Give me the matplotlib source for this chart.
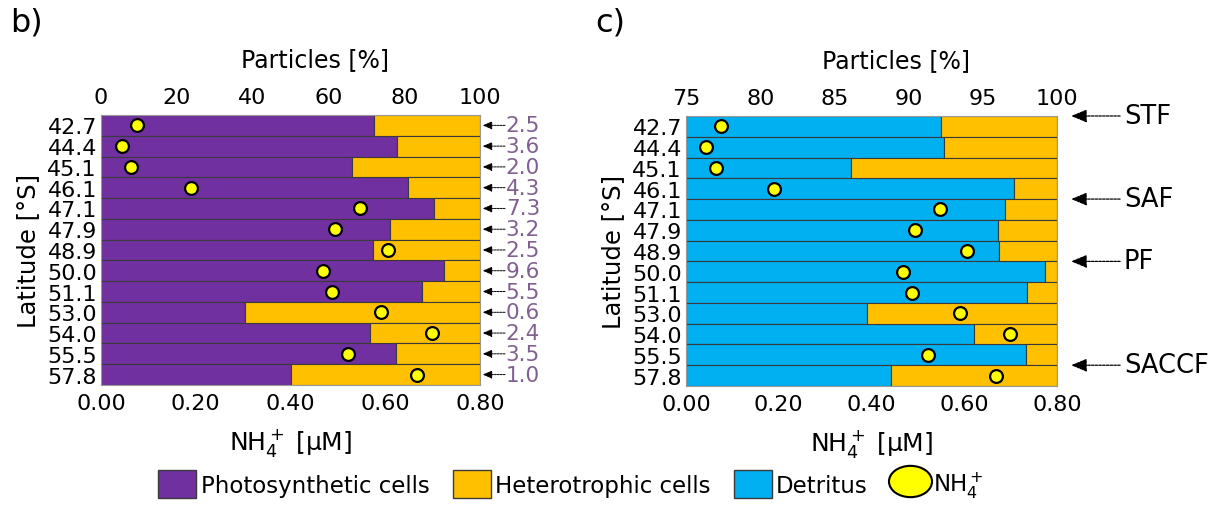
#Recreates the particle composition / NH4+ latitude bar charts (panels b and c)

import matplotlib
matplotlib.use('Agg')
import matplotlib.pyplot as plt
from matplotlib.patches import Patch
from matplotlib.lines import Line2D
from matplotlib.path import Path
from matplotlib.transforms import Affine2D

plt.rcParams['font.family'] = ['DejaVu Sans']
plt.rcParams['font.size'] = 16

Latitudes = ['42.7','44.4','45.1','46.1','47.1','47.9','48.9','50.0','51.1','53.0','54.0','55.5','57.8']

# percent of particles
Photosynthetic = [72.0,78.1,66.1,81.1,87.9,76.2,71.8,90.6,84.8,38.1,70.9,77.9,50.0]
Detritus = [92.2,92.4,86.1,97.1,96.5,96.0,96.1,99.2,98.0,87.2,94.4,97.9,88.8]

# NH4+ concentration [uM]
NH4 = [0.076,0.044,0.064,0.190,0.547,0.493,0.605,0.468,0.488,0.590,0.698,0.521,0.668]

# side labels of panel b
SideValues = ['2.5','3.6','2.0','4.3','7.3','3.2','2.5','9.6','5.5','0.6','2.4','3.5','1.0']

# fronts in panel c (row boundary positions)
FrontNames = ['STF','SAF','PF','SACCF']
FrontPos = [-0.5,3.5,6.5,11.5]

PURPLE = '#7030A0'
ORANGE = '#FFC000'
BLUE = '#00B0F0'
YELLOW = '#FFFF00'
EDGE = '#3a3a3a'

yPos = list(range(len(Latitudes)))


def SetupPanel(ax,xmin,xmax,xticks):

	axn = ax.twiny()

	ax.set_xlim(xmin,xmax)
	ax.set_ylim(len(Latitudes)-0.5,-0.5)
	ax.xaxis.tick_top()
	ax.xaxis.set_label_position('top')
	ax.set_xticks(xticks)
	ax.set_yticks(yPos)
	ax.set_yticklabels(Latitudes)
	ax.tick_params(length=0,labelsize=16)
	ax.tick_params(axis='x',pad=6)
	ax.tick_params(axis='y',pad=3)
	ax.set_xlabel('Particles [%]',fontsize=17,va='center')
	ax.xaxis.set_label_coords(0.565,1.207)
	ax.set_ylabel('Latitude [°S]',fontsize=17.5,labelpad=5)
	for sp in ax.spines.values():
		sp.set_color('#999999')
		sp.set_linewidth(0.8)

	axn.xaxis.tick_bottom()
	axn.xaxis.set_label_position('bottom')
	axn.set_xlim(0,0.8)
	axn.set_xticks([0,0.2,0.4,0.6,0.8])
	axn.set_xticklabels(['%.2f' % v for v in [0,0.2,0.4,0.6,0.8]])
	axn.tick_params(length=0,pad=6,labelsize=16)
	axn.set_xlabel('NH$_4^+$ [µM]',fontsize=18,labelpad=9)
	axn.scatter(NH4,yPos,s=85,color=YELLOW,edgecolor='black',linewidth=1.6,zorder=5)
	axn.set_ylim(ax.get_ylim())
	for sp in axn.spines.values():
		sp.set_visible(False)
	return axn


fig = plt.figure(figsize=(12.23,5.06),dpi=100)

# panel b
ax1 = fig.add_axes([0.0826,0.2372,0.3099,0.5336])
ax1.barh(yPos,Photosynthetic,height=1.0,color=PURPLE,edgecolor=EDGE,linewidth=0.8)
ax1.barh(yPos,[100-p for p in Photosynthetic],left=Photosynthetic,height=1.0,color=ORANGE,edgecolor=EDGE,linewidth=0.8)
SetupPanel(ax1,0,100,[0,20,40,60,80,100])

for yy,lab in zip(yPos,SideValues):
	ax1.annotate('',xy=(1.007,yy),xycoords=('axes fraction','data'),
		xytext=(1.066,yy),textcoords=('axes fraction','data'),
		arrowprops=dict(arrowstyle='-|>,head_length=0.35,head_width=0.15',linestyle=(0,(2,1)),
		linewidth=0.7,color='black',shrinkA=0,shrinkB=0),annotation_clip=False)
	ax1.text(1.068,yy,lab,transform=ax1.get_yaxis_transform(),va='center',ha='left',
		fontsize=15.5,color='#806090')

# panel c
ax2 = fig.add_axes([0.5609,0.2352,0.3034,0.5336])
ax2.barh(yPos,[d-75 for d in Detritus],left=75,height=1.0,color=BLUE,edgecolor=EDGE,linewidth=0.8)
ax2.barh(yPos,[100-d for d in Detritus],left=Detritus,height=1.0,color=ORANGE,edgecolor=EDGE,linewidth=0.8)
SetupPanel(ax2,75,100,[75,80,85,90,95,100])

for yy,lab in zip(FrontPos,FrontNames):
	ax2.annotate('',xy=(1.038,yy),xycoords=('axes fraction','data'),
		xytext=(1.17,yy),textcoords=('axes fraction','data'),
		arrowprops=dict(arrowstyle='-|>,head_length=0.6,head_width=0.25',linestyle=(0,(2,1)),
		linewidth=0.9,color='black',shrinkA=0,shrinkB=0),annotation_clip=False)
	ax2.text(1.18,yy,lab,transform=ax2.get_yaxis_transform(),va='center',ha='left',fontsize=18.5)

fig.text(0.008,0.955,'b)',fontsize=23,va='center',ha='left')
fig.text(0.487,0.955,'c)',fontsize=23,va='center',ha='left')

# slightly wide ellipse for the NH4+ legend key
EllipseMarker = Path.unit_circle().transformed(Affine2D().scale(1.375,1.0))

Handles = [Patch(facecolor=PURPLE,edgecolor=EDGE),
	Patch(facecolor=ORANGE,edgecolor=EDGE),
	Patch(facecolor=BLUE,edgecolor=EDGE),
	Line2D([],[],marker=EllipseMarker,linestyle='None',markersize=31,markerfacecolor=YELLOW,
		markeredgecolor='black',markeredgewidth=1.5)]
Labels = ['Photosynthetic cells','Heterotrophic cells','Detritus','NH$_4^+$']
fig.legend(Handles,Labels,loc='center',bbox_to_anchor=(0.467,0.039),ncol=4,frameon=False,
	fontsize=16.5,handlelength=1.66,handleheight=1.48,handletextpad=0.2,columnspacing=1.0)

fig.savefig('out.png',dpi=100)
